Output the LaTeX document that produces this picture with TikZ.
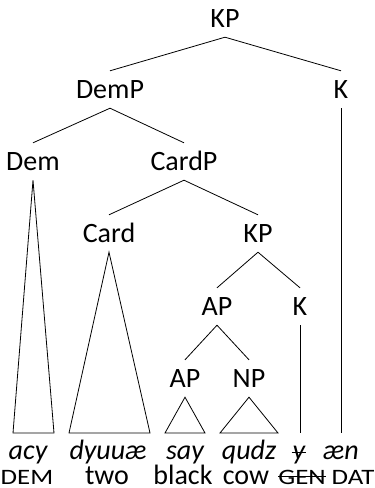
\documentclass[tikz,border=0pt]{standalone}
\usepackage{fontspec}
\setmainfont{Carlito}
\newfontfamily\smcfamily[FakeStretch=1.22]{Carlito}
\newcommand\labfont{\fontsize{28}{30}\selectfont}
\newcommand\smc[1]{{\smcfamily\fontsize{22}{22}\selectfont #1}}
\begin{document}
\begin{tikzpicture}[x=1pt,y=-1pt,
  lab/.style={anchor=base,inner xsep=0pt,inner ysep=9pt,text height=18pt,text depth=1pt,font=\labfont},
  word/.style={anchor=base,inner sep=0pt,font=\labfont\itshape},
  gloss/.style={anchor=base,inner sep=0pt,font=\labfont},
  edge/.style={line width=0.8pt}]
\useasboundingbox (0,0) rectangle (375,488);
\node[lab] (kp) at (225,27) {KP};
\node[lab] (demp) at (110,98) {DemP};
\node[lab] (k1) at (341,98) {K};
\node[lab] (dem) at (33,170) {Dem};
\node[lab] (cardp) at (184,170) {CardP};
\node[lab] (card) at (109,242) {Card};
\node[lab] (kp2) at (258,242) {KP};
\node[lab] (ap) at (217,315) {AP};
\node[lab] (k2) at (300,315) {K};
\node[lab] (ap2) at (185,387) {AP};
\node[lab] (np) at (249,387) {NP};
\coordinate (demL) at (13,433); \coordinate (demR) at (54,433);
\coordinate (cardL) at (69,433); \coordinate (cardR) at (150,433);
\coordinate (apL) at (165,433); \coordinate (apR) at (205,433);
\coordinate (npL) at (220,433); \coordinate (npR) at (278,433);
\coordinate (k2E) at (300,433); \coordinate (k1E) at (341,433);
\draw[edge] (kp.south) -- (demp.north);
\draw[edge] (kp.south) -- (k1.north);
\draw[edge] (demp.south) -- (dem.north);
\draw[edge] (demp.south) -- (cardp.north);
\draw[edge] (cardp.south) -- (card.north);
\draw[edge] (cardp.south) -- (kp2.north);
\draw[edge] (kp2.south) -- (ap.north);
\draw[edge] (kp2.south) -- (k2.north);
\draw[edge] (ap.south) -- (ap2.north);
\draw[edge] (ap.south) -- (np.north);
\draw[edge,line join=miter] (dem.south) -- (demL) -- (demR) -- cycle;
\draw[edge] (card.south) -- (cardL) -- (cardR) -- cycle;
\draw[edge] (ap2.south) -- (apL) -- (apR) -- cycle;
\draw[edge] (np.south) -- (npL) -- (npR) -- cycle;
\draw[edge] (k2.south) -- (k2E);
\draw[edge] (k1.south) -- (k1E);
\node[word] (w1) at (28,459) {acy};
\node[word] (w2) at (108,459) {dyuuæ};
\node[word] (w3) at (185,459) {say};
\node[word] (w4) at (249,459) {qudz};
\node[word] (w5) at (299,459) {y};
\node[word] (w6) at (341,459) {æn};
\node[gloss] (g1) at (27,484) {\smc{DEM}};
\node[gloss] (g2) at (107,484) {two};
\node[gloss] (g3) at (183,484) {black};
\node[gloss] (g4) at (246,484) {cow};
\node[gloss] (g5) at (302,484) {\smc{GEN}};
\node[gloss] (g6) at (353,484) {\smc{DAT}};
\draw[edge] ([xshift=-1pt,yshift=6.5pt]w5.base west) -- ([xshift=1pt,yshift=6.5pt]w5.base east);
\draw[edge] ([yshift=8pt]g5.base west) -- ([yshift=8pt]g5.base east);
\end{tikzpicture}
\end{document}
